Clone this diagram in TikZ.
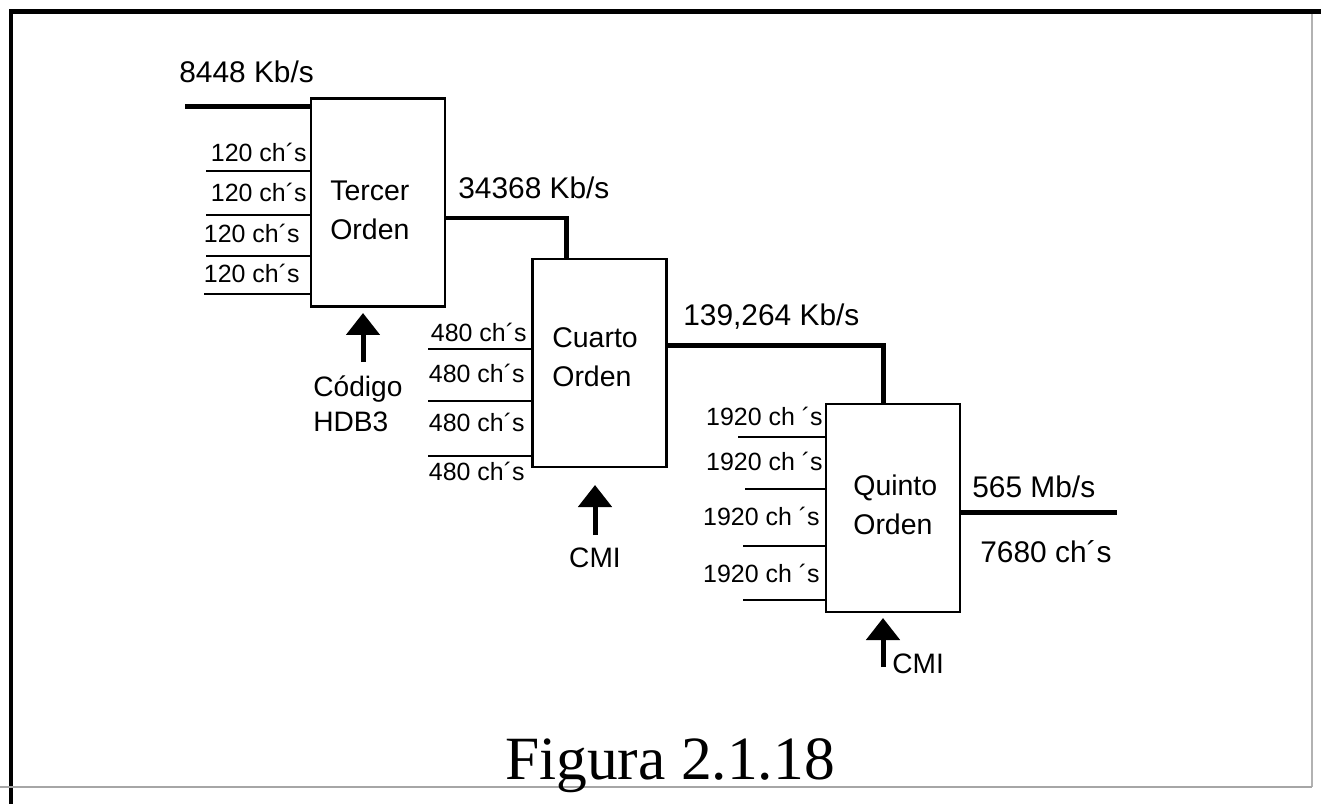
\documentclass[tikz,border=0pt]{standalone}
\usepackage{fontspec}
\setmainfont{Liberation Sans}
\newfontfamily\figfont{Liberation Serif}
\usetikzlibrary{arrows.meta}
\begin{document}
\begin{tikzpicture}[x=0.02cm,y=-0.02cm,
  blk/.style={draw, line width=0.05cm, minimum width=2.68cm, minimum height=4.16cm, inner sep=0pt},
  thickw/.style={line width=0.1cm},
  thinw/.style={line width=0.04cm},
  rate/.style={font=\fontsize{17}{20}\selectfont, inner sep=0pt, anchor=base west},
  chl/.style={font=\fontsize{14.2}{17}\selectfont, inner sep=0pt, anchor=base east},
  blabel/.style={font=\fontsize{16.2}{22.1}\selectfont, align=left, inner sep=0pt, anchor=south west},
  codelbl/.style={font=\fontsize{16}{19.9}\selectfont, align=left, inner sep=0pt},
  uparrow/.style={line width=0.1cm, -{Triangle[width=0.66cm,length=0.44cm]}},
]
\useasboundingbox (0,0) rectangle (1321,804);
% frame
\draw[line width=0.1cm] (9,12) -- (1321,12);
\draw[line width=0.1cm] (11,10) -- (11,804);
\draw[gray!60, line width=0.03cm] (1312,14) -- (1312,787);
\draw[gray!70, line width=0.03cm] (0,787) -- (1312,787);

% blocks
\node[blk] (b1) at (378,202.5) {};
\node[blk] (b2) at (599.5,363) {};
\node[blk] (b3) at (893,508) {};
\node[blabel] (t1) at (330,240) {Tercer\\Orden};
\node[blabel] (t2) at (552,387) {Cuarto\\Orden};
\node[blabel] (t3) at (853,535) {Quinto\\Orden};

% rate labels
\node[rate] (r1) at (179,83) {8448 Kb/s};
\node[rate] (r2) at (458,198) {34368 Kb/s};
\node[rate] (r3) at (683,325) {139,264 Kb/s};
\node[rate] (r4) at (972,497.5) {565 Mb/s};
\node[rate] (r5) at (980,562) {7680 ch´s};

% main connectors
\coordinate (in0) at (185,107);
\draw[thickw] (in0) -- (in0 -| b1.west);
\coordinate (j1) at (566,218);
\draw[thickw] (j1 -| b1.east) -- (j1) -- (j1 |- b2.north);
\coordinate (j2) at (883,345);
\draw[thickw] (j2 -| b2.east) -- (j2) -- (j2 |- b3.north);
\coordinate (o3) at (1117,512);
\draw[thickw] (o3 -| b3.east) -- (o3);

% inputs block 1
\foreach \n/\xs/\yl/\xr/\yb in {1/206/171/307/162, 2/206/215/307/202, 3/206/256/300/242, 4/204/294/300/282}{
  \coordinate (p1\n) at (\xs,\yl);
  \draw[thinw] (p1\n) -- (p1\n -| b1.west);
  \node[chl] (c1\n) at (\xr,\yb) {120 ch´s};
}
% inputs block 2
\foreach \n/\yl in {1/349, 2/401, 3/456}{
  \coordinate (p2\n) at (428,\yl);
  \draw[thinw] (p2\n) -- (p2\n -| b2.west);
}
\node[chl] (c21) at (527,341) {480 ch´s};
\node[chl] (c22) at (525,382) {480 ch´s};
\node[chl] (c23) at (525,431) {480 ch´s};
\node[chl] (c24) at (525,480) {480 ch´s};
% inputs block 3
\foreach \n/\xs/\yl/\xr/\yb in {1/738/437/823/425, 2/745/489/823/470, 3/743/546/820/525, 4/743/600/820/582}{
  \coordinate (p3\n) at (\xs,\yl);
  \draw[thinw] (p3\n) -- (p3\n -| b3.west);
  \node[chl] (c3\n) at (\xr,\yb) {1920 ch ´s};
}

% code arrows
\coordinate (a1s) at (363,362); \coordinate (a1e) at (363,313);
\draw[uparrow] (a1s) -- (a1e);
\node[codelbl, anchor=south west] (k1) at (313,432) {Código\\HDB3};
\coordinate (a2s) at (595,535); \coordinate (a2e) at (595,485);
\draw[uparrow] (a2s) -- (a2e);
\node[codelbl, anchor=base] (k2) at (595,567) {CMI};
\coordinate (a3s) at (883,667); \coordinate (a3e) at (883,618);
\draw[uparrow] (a3s) -- (a3e);
\node[codelbl, anchor=base west] (k3) at (892,673) {CMI};

% caption
\node[font=\figfont\fontsize{35}{40}\selectfont, anchor=base, inner sep=0pt] (cap) at (670,779) {Figura 2.1.18};
\end{tikzpicture}
\end{document}
